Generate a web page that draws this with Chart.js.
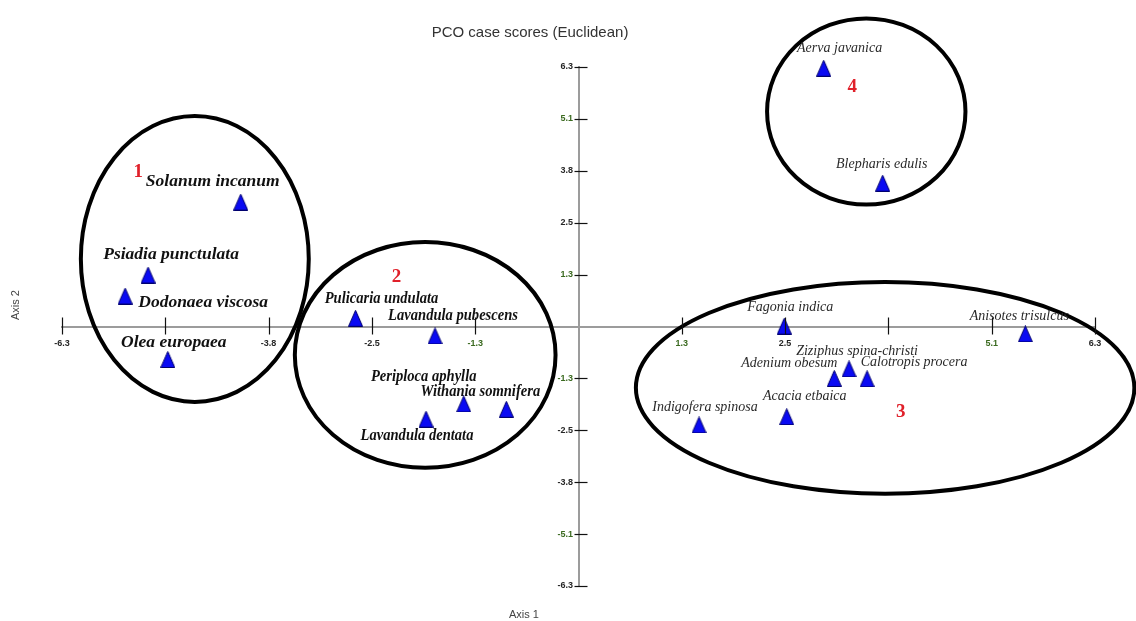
<!DOCTYPE html>
<html>
<head>
<meta charset="utf-8">
<script src="https://cdn.jsdelivr.net/npm/chart.js@4.4.1/dist/chart.umd.min.js"></script>
<style>
html, body { margin: 0; padding: 0; background: #fff; }
#wrap { width: 1136px; height: 621px; position: relative; }
</style>
</head>
<body>
<div id="wrap"><canvas id="pcoChart" width="1136" height="621"></canvas></div>
<script>
// species and their PCO case scores
const species = [
  'Solanum incanum', 'Psiadia punctulata', 'Dodonaea viscosa', 'Olea europaea',
  'Pulicaria undulata', 'Lavandula pubescens', 'Periploca aphylla', 'Withania somnifera', 'Lavandula dentata',
  'Fagonia indica', 'Anisotes trisulcus', 'Ziziphus spina-christi', 'Adenium obesum', 'Calotropis procera',
  'Acacia etbaica', 'Indigofera spinosa',
  'Aerva javanica', 'Blepharis edulis'
];
const axis1 = [-4.12, -5.25, -5.53, -5.01, -2.72, -1.75, -1.40, -0.88, -1.86, 2.51, 5.45, 3.30, 3.12, 3.52, 2.54, 1.47, 2.99, 3.71];
const axis2 = [3.02, 1.25, 0.74, -0.80, 0.20, -0.23, -1.88, -2.01, -2.25, 0.01, -0.18, -1.03, -1.26, -1.27, -2.19, -2.39, 6.27, 3.48];
const speciesGroup = [1, 1, 1, 1, 2, 2, 2, 2, 2, 3, 3, 3, 3, 3, 3, 3, 4, 4];

// axis ticks
const tickValues = [-6.3, -5.04, -3.78, -2.52, -1.26, 1.26, 2.52, 3.78, 5.04, 6.3];
const xTickLabels = ['-6.3', '', '-3.8', '-2.5', '-1.3', '1.3', '2.5', '', '5.1', '6.3'];
const yTickLabels = ['-6.3', '-5.1', '-3.8', '-2.5', '-1.3', '1.3', '2.5', '3.8', '5.1', '6.3'];

// cluster ellipses (axis units)
const clusterNames = ['1', '2', '3', '4'];
const clusterX = [-4.68, -1.87, 3.74, 3.51];
const clusterY = [1.64, -0.69, -1.49, 5.22];
const clusterRX = [1.39, 1.59, 3.04, 1.21];
const clusterRY = [3.47, 2.74, 2.57, 2.26];
const clusterNumX = [-5.37, -2.22, 3.93, 3.34];
const clusterNumY = [3.75, 1.21, -2.07, 5.81];

// where each name sits relative to its marker (px)
const labelShift = [
  [-28, -21], [23, -21], [78, 6], [6, -17],
  [26, -19], [18, -20], [-40, -27], [-26, -17], [-9, 17],
  [6, -19], [-6, -18], [8, -18], [-45, -15], [47, -16],
  [18, -20], [6, -18],
  [16, -20], [-1, -19]
];

function makeTriangle() {
  const c = document.createElement('canvas');
  c.width = 15;
  c.height = 17;
  const g = c.getContext('2d');
  g.beginPath();
  g.moveTo(7.5, 0.5);
  g.lineTo(14.5, 16.5);
  g.lineTo(0.5, 16.5);
  g.closePath();
  g.fillStyle = '#0a0af2';
  g.fill();
  g.strokeStyle = '#00006e';
  g.lineWidth = 1;
  g.stroke();
  return c;
}

const tickFont = { family: '"Liberation Sans Narrow", "Liberation Sans", Arial, sans-serif', size: 9, weight: 'bold' };
const tickColor = c => {
  const v = Math.abs(c.tick.value);
  return (v === 1.26 || v === 5.04) ? '#3b6a20' : '#262626';
};

const overlayPlugin = {
  id: 'overlay',
  beforeDatasetsDraw(chart) {
    const { ctx, scales: { x, y } } = chart;
    ctx.save();

    // ellipses
    ctx.strokeStyle = '#000';
    ctx.lineWidth = 4;
    clusterX.forEach((cx, i) => {
      const px = x.getPixelForValue(cx);
      const py = y.getPixelForValue(clusterY[i]);
      const rx = x.getPixelForValue(cx + clusterRX[i]) - px;
      const ry = py - y.getPixelForValue(clusterY[i] + clusterRY[i]);
      ctx.beginPath();
      ctx.ellipse(px, py, rx, ry, 0, 0, Math.PI * 2);
      ctx.stroke();
    });

    // cluster numbers
    ctx.fillStyle = '#e0202a';
    ctx.font = 'bold 19px "Liberation Serif", "Times New Roman", serif';
    ctx.textAlign = 'center';
    ctx.textBaseline = 'middle';
    clusterNames.forEach((n, i) => {
      ctx.fillText(n, x.getPixelForValue(clusterNumX[i]), y.getPixelForValue(clusterNumY[i]));
    });

    // species names
    const meta = chart.getDatasetMeta(0);
    species.forEach((name, i) => {
      const pt = meta.data[i];
      const lx = pt.x + labelShift[i][0];
      const ly = pt.y + labelShift[i][1];
      let squeeze = 1;
      if (speciesGroup[i] === 1) {
        ctx.font = 'italic bold 17.5px "Liberation Serif", "Times New Roman", serif';
        ctx.fillStyle = '#111';
      } else if (speciesGroup[i] === 2) {
        ctx.font = 'italic bold 16px "Liberation Serif", "Times New Roman", serif';
        ctx.fillStyle = '#111';
        squeeze = 0.91;
      } else {
        ctx.font = 'italic 14px "Liberation Serif", "Times New Roman", serif';
        ctx.fillStyle = '#2a2a2a';
      }
      ctx.save();
      ctx.translate(lx, ly);
      ctx.scale(squeeze, 1);
      ctx.fillText(name, 0, 0);
      ctx.restore();
    });
    ctx.restore();
  },
  afterDraw(chart) {
    const { ctx, scales: { x, y } } = chart;
    const x0 = x.getPixelForValue(0);
    const y0 = y.getPixelForValue(0);
    ctx.save();

    // tick marks crossing the axes
    ctx.strokeStyle = '#111';
    ctx.lineWidth = 1.2;
    x.ticks.forEach(t => {
      const px = Math.round(x.getPixelForValue(t.value)) + 0.5;
      ctx.beginPath();
      ctx.moveTo(px, y0 - 9);
      ctx.lineTo(px, y0 + 8);
      ctx.stroke();
    });
    y.ticks.forEach(t => {
      const py = Math.round(y.getPixelForValue(t.value)) + 0.5;
      ctx.beginPath();
      ctx.moveTo(x0 - 4, py);
      ctx.lineTo(x0 + 9, py);
      ctx.stroke();
    });

    // titles
    ctx.fillStyle = '#333';
    ctx.textAlign = 'center';
    ctx.textBaseline = 'middle';
    ctx.font = '15px "Liberation Sans", Arial, sans-serif';
    ctx.fillText('PCO case scores (Euclidean)', 530, 33);
    ctx.font = '11px "Liberation Sans", Arial, sans-serif';
    ctx.fillStyle = '#444';
    ctx.fillText('Axis 1', 524, 615);
    ctx.translate(16, 305);
    ctx.rotate(-Math.PI / 2);
    ctx.fillText('Axis 2', 0, 0);
    ctx.restore();
  }
};

const ctx = document.getElementById('pcoChart').getContext('2d');

new Chart(ctx, {
  type: 'scatter',
  data: {
    datasets: [{
      label: 'Species',
      data: axis1.map((v, i) => ({ x: v, y: axis2[i] })),
      pointStyle: makeTriangle(),
      pointRadius: 8,
      backgroundColor: '#0a0af2',
      borderColor: '#00006e',
      clip: false
    }]
  },
  options: {
    responsive: false,
    animation: false,
    devicePixelRatio: 1,
    layout: {
      padding: { left: 62, right: 41, top: 67, bottom: 35 }
    },
    plugins: {
      legend: { display: false },
      tooltip: { enabled: false }
    },
    scales: {
      x: {
        type: 'linear',
        min: -6.3,
        max: 6.3,
        position: { y: 0 },
        afterBuildTicks: s => { s.ticks = tickValues.map(v => ({ value: v })); },
        grid: { display: true, drawOnChartArea: false, drawTicks: false },
        border: { color: '#9c9c9c', width: 2 },
        ticks: {
          autoSkip: false,
          maxRotation: 0,
          padding: 12,
          color: tickColor,
          font: tickFont,
          callback: (v, i) => xTickLabels[i]
        }
      },
      y: {
        type: 'linear',
        min: -6.3,
        max: 6.3,
        position: { x: 0 },
        afterBuildTicks: s => { s.ticks = tickValues.map(v => ({ value: v })); },
        grid: { display: true, drawOnChartArea: false, drawTicks: false },
        border: { color: '#9c9c9c', width: 2 },
        ticks: {
          autoSkip: false,
          padding: 6,
          color: tickColor,
          font: tickFont,
          callback: (v, i) => yTickLabels[i] + '\u2009\u2009\u2009'
        }
      }
    }
  },
  plugins: [overlayPlugin]
});
</script>
</body>
</html>
